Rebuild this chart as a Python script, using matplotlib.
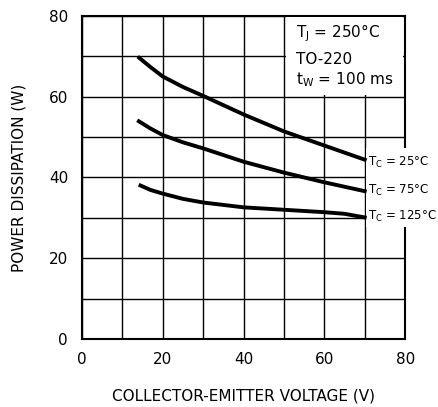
import matplotlib
matplotlib.use("Agg")
import matplotlib.pyplot as plt
from matplotlib.patches import Rectangle

# curves
vce_25 = [14.2, 17, 20, 25, 30, 40, 50, 60, 70]
pd_25 = [69.6, 67.3, 65.0, 62.4, 60.2, 55.6, 51.4, 47.9, 44.4]

vce_75 = [14.1, 17, 20, 25, 30, 40, 50, 60, 70]
pd_75 = [53.9, 52.1, 50.5, 48.7, 47.2, 43.9, 41.2, 38.8, 36.6]

vce_125 = [14.5, 17, 20, 25, 30, 40, 50, 60, 65, 70]
pd_125 = [38.0, 36.9, 36.0, 34.7, 33.8, 32.6, 32.0, 31.4, 31.0, 30.1]

curve_labels = [r"T$_\mathregular{C}$ = 25°C", r"T$_\mathregular{C}$ = 75°C",
                r"T$_\mathregular{C}$ = 125°C"]
ticks = [0, 20, 40, 60, 80]

plt.rcParams["font.family"] = "DejaVu Sans"

fig = plt.figure(figsize=(4.38, 4.07), dpi=100)
ax = fig.add_axes([0.187, 0.167, 0.738, 0.794])

ax.set_xlim(0, 80)
ax.set_ylim(0, 80)
ax.set_xticks(ticks)
ax.set_yticks(ticks)
ax.set_xticks(range(10, 80, 20), minor=True)
ax.set_yticks(range(10, 80, 20), minor=True)
ax.tick_params(which="both", length=0, labelsize=11)
ax.tick_params(axis="y", pad=10)
ax.tick_params(axis="x", pad=9)
ax.grid(True, which="both", color="black", linewidth=1.0)
ax.set_axisbelow(True)
for s in ax.spines.values():
    s.set_linewidth(1.5)

ax.plot(vce_25, pd_25, color="black", linewidth=2.8, zorder=4)
ax.plot(vce_75, pd_75, color="black", linewidth=2.8, zorder=4)
ax.plot(vce_125, pd_125, color="black", linewidth=2.8, zorder=4)

# white boxes behind the annotations
ax.add_patch(Rectangle((50.5, 60.3), 29.0, 19.4, facecolor="white",
                       edgecolor="none", zorder=3))
ax.add_patch(Rectangle((70.3, 27.7), 12, 19.6, facecolor="white",
                       edgecolor="none", zorder=3, clip_on=False))

ax.text(53, 75.8, r"T$_\mathregular{J}$ = 250°C", fontsize=11, va="center", zorder=5)
ax.text(53, 69.3, "TO-220", fontsize=11, va="center", zorder=5)
ax.text(53, 64.2, r"t$_\mathregular{W}$ = 100 ms", fontsize=11, va="center", zorder=5)

for lab, yy in zip(curve_labels, [43.6, 36.8, 30.4]):
    ax.text(70.8, yy, lab, fontsize=8.5, va="center", zorder=5, clip_on=False)

ax.set_xlabel("COLLECTOR-EMITTER VOLTAGE (V)", fontsize=11, labelpad=16)
ax.set_ylabel("POWER DISSIPATION (W)", fontsize=11, labelpad=16)

fig.savefig("out.png", dpi=100)
